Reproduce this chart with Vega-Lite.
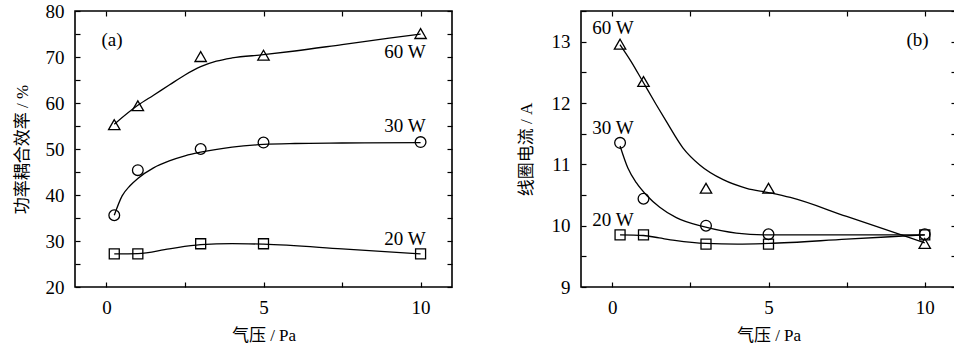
{
  "$schema": "https://vega.github.io/schema/vega-lite/v6.json",
  "padding": {"left": 12, "top": 1, "right": 0, "bottom": 0},
  "background": "white",
  "config": {
    "view": {"stroke": "black", "strokeWidth": 1.6},
    "axis": {
      "grid": false, "domain": false,
      "tickColor": "black", "tickWidth": 1.2, "tickSize": -5,
      "labelColor": "black", "labelFont": "Liberation Serif", "labelFontSize": 19, "labelPadding": 16,
      "titleColor": "black", "titleFont": "Liberation Serif, Noto Sans CJK SC", "titleFontSize": 17, "titleFontWeight": "normal"
    },
    "text": {"font": "Liberation Serif", "fontSize": 19, "color": "black", "baseline": "middle"}
  },
  "datasets": {
    "pointsA": [
      {"s": "60W", "x": 0.25, "y": 55.3}, {"s": "60W", "x": 1, "y": 59.4}, {"s": "60W", "x": 3, "y": 70.1}, {"s": "60W", "x": 5, "y": 70.4}, {"s": "60W", "x": 10, "y": 75.1},
      {"s": "30W", "x": 0.25, "y": 35.6}, {"s": "30W", "x": 1, "y": 45.4}, {"s": "30W", "x": 3, "y": 50.0}, {"s": "30W", "x": 5, "y": 51.4}, {"s": "30W", "x": 10, "y": 51.5},
      {"s": "20W", "x": 0.25, "y": 27.2}, {"s": "20W", "x": 1, "y": 27.2}, {"s": "20W", "x": 3, "y": 29.4}, {"s": "20W", "x": 5, "y": 29.4}, {"s": "20W", "x": 10, "y": 27.2}
    ],
    "curvesA": [
      {"s": "60W", "x": 0.25, "y": 55.4}, {"s": "60W", "x": 1, "y": 59.5}, {"s": "60W", "x": 1.5, "y": 61.7}, {"s": "60W", "x": 2, "y": 63.9}, {"s": "60W", "x": 2.5, "y": 66.1}, {"s": "60W", "x": 3, "y": 67.9}, {"s": "60W", "x": 3.5, "y": 69.1}, {"s": "60W", "x": 4, "y": 69.8}, {"s": "60W", "x": 5, "y": 70.5}, {"s": "60W", "x": 6, "y": 71.3}, {"s": "60W", "x": 7.5, "y": 72.7}, {"s": "60W", "x": 9, "y": 74.1}, {"s": "60W", "x": 10, "y": 75.0},
      {"s": "30W", "x": 0.25, "y": 35.6}, {"s": "30W", "x": 0.5, "y": 39.8}, {"s": "30W", "x": 0.75, "y": 42.0}, {"s": "30W", "x": 1, "y": 43.6}, {"s": "30W", "x": 1.5, "y": 45.9}, {"s": "30W", "x": 2, "y": 47.4}, {"s": "30W", "x": 2.5, "y": 48.5}, {"s": "30W", "x": 3, "y": 49.3}, {"s": "30W", "x": 4, "y": 50.4}, {"s": "30W", "x": 5, "y": 51.0}, {"s": "30W", "x": 6, "y": 51.2}, {"s": "30W", "x": 7.5, "y": 51.3}, {"s": "30W", "x": 10, "y": 51.4},
      {"s": "20W", "x": 0.25, "y": 27.2}, {"s": "20W", "x": 1, "y": 27.25}, {"s": "20W", "x": 2, "y": 28.3}, {"s": "20W", "x": 3, "y": 29.2}, {"s": "20W", "x": 4, "y": 29.45}, {"s": "20W", "x": 5, "y": 29.3}, {"s": "20W", "x": 7.5, "y": 28.3}, {"s": "20W", "x": 10, "y": 27.2}
    ],
    "tagA": [{"t": "(a)", "x": 0.18, "y": 73.7}],
    "seriesLabelsA": [
      {"t": "60 W", "x": 10.16, "y": 71.0},
      {"t": "30 W", "x": 10.16, "y": 54.9},
      {"t": "20 W", "x": 10.16, "y": 30.5}
    ],
    "pointsB": [
      {"s": "60W", "x": 0.25, "y": 12.96}, {"s": "60W", "x": 1, "y": 12.35}, {"s": "60W", "x": 3, "y": 10.61}, {"s": "60W", "x": 5, "y": 10.61}, {"s": "60W", "x": 10, "y": 9.71},
      {"s": "30W", "x": 0.25, "y": 11.35}, {"s": "30W", "x": 1, "y": 10.44}, {"s": "30W", "x": 3, "y": 10.0}, {"s": "30W", "x": 5, "y": 9.86}, {"s": "30W", "x": 10, "y": 9.86},
      {"s": "20W", "x": 0.25, "y": 9.85}, {"s": "20W", "x": 1, "y": 9.85}, {"s": "20W", "x": 3, "y": 9.7}, {"s": "20W", "x": 5, "y": 9.7}, {"s": "20W", "x": 10, "y": 9.85}
    ],
    "curvesB": [
      {"s": "60W", "x": 0.25, "y": 12.95}, {"s": "60W", "x": 0.6, "y": 12.68}, {"s": "60W", "x": 1, "y": 12.33}, {"s": "60W", "x": 1.4, "y": 11.98}, {"s": "60W", "x": 1.73, "y": 11.7}, {"s": "60W", "x": 2.26, "y": 11.27}, {"s": "60W", "x": 2.8, "y": 10.99}, {"s": "60W", "x": 3.55, "y": 10.75}, {"s": "60W", "x": 4.3, "y": 10.61}, {"s": "60W", "x": 5, "y": 10.54}, {"s": "60W", "x": 5.7, "y": 10.46}, {"s": "60W", "x": 7.5, "y": 10.15}, {"s": "60W", "x": 10, "y": 9.72},
      {"s": "30W", "x": 0.25, "y": 11.3}, {"s": "30W", "x": 0.5, "y": 10.94}, {"s": "30W", "x": 0.77, "y": 10.7}, {"s": "30W", "x": 1.09, "y": 10.5}, {"s": "30W", "x": 1.52, "y": 10.3}, {"s": "30W", "x": 2.05, "y": 10.13}, {"s": "30W", "x": 2.96, "y": 9.98}, {"s": "30W", "x": 3.97, "y": 9.88}, {"s": "30W", "x": 5, "y": 9.85}, {"s": "30W", "x": 7.5, "y": 9.85}, {"s": "30W", "x": 10, "y": 9.85},
      {"s": "20W", "x": 0.25, "y": 9.85}, {"s": "20W", "x": 1, "y": 9.84}, {"s": "20W", "x": 1.5, "y": 9.8}, {"s": "20W", "x": 2, "y": 9.76}, {"s": "20W", "x": 3, "y": 9.71}, {"s": "20W", "x": 4, "y": 9.7}, {"s": "20W", "x": 5, "y": 9.71}, {"s": "20W", "x": 7.5, "y": 9.78}, {"s": "20W", "x": 10, "y": 9.85}
    ],
    "tagB": [{"t": "(b)", "x": 9.77, "y": 13.03}],
    "seriesLabelsB": [
      {"t": "60 W", "x": -0.64, "y": 13.23},
      {"t": "30 W", "x": -0.64, "y": 11.6},
      {"t": "20 W", "x": -0.64, "y": 10.1}
    ]
  },
  "spacing": 129,
  "bounds": "flush",
  "hconcat": [
    {
      "width": 377, "height": 276,
      "resolve": {"axis": {"x": "independent", "y": "independent"}},
      "layer": [
        {
          "data": {"name": "curvesA"},
          "mark": {"type": "line", "interpolate": "monotone", "color": "black", "strokeWidth": 1.3},
          "encoding": {
            "x": {"field": "x", "type": "quantitative", "scale": {"domain": [-1, 11], "nice": false, "zero": false},
                  "axis": {"orient": "bottom", "values": [0, 2.5, 5, 7.5, 10], "labelExpr": "datum.value % 5 === 0 ? datum.label : ''", "title": "气压 / Pa", "titlePadding": 10}},
            "y": {"field": "y", "type": "quantitative", "scale": {"domain": [20, 80], "nice": false, "zero": false},
                  "axis": {"orient": "left", "values": [20, 25, 30, 35, 40, 45, 50, 55, 60, 65, 70, 75, 80], "labelExpr": "datum.value % 10 === 0 ? datum.label : ''", "title": "功率耦合效率 / %", "titlePadding": 14}},
            "detail": {"field": "s"}
          }
        },
        {
          "data": {"name": "pointsA"},
          "mark": {"type": "point", "filled": false, "color": "black", "strokeWidth": 1.3, "opacity": 1},
          "encoding": {
            "x": {"field": "x", "type": "quantitative", "axis": {"orient": "top", "values": [0, 2.5, 5, 7.5, 10], "labels": false, "title": null}},
            "y": {"field": "y", "type": "quantitative", "axis": {"orient": "right", "values": [20, 25, 30, 35, 40, 45, 50, 55, 60, 65, 70, 75, 80], "labels": false, "title": null}},
            "shape": {"field": "s", "type": "nominal", "scale": {"domain": ["60W", "30W", "20W"], "range": ["triangle-up", "circle", "square"]}, "legend": null},
            "size": {"field": "s", "type": "nominal", "scale": {"domain": ["60W", "30W", "20W"], "range": [130, 100, 80]}, "legend": null}
          }
        },
        {
          "data": {"name": "tagA"},
          "mark": {"type": "text", "align": "center"},
          "encoding": {
            "x": {"field": "x", "type": "quantitative", "axis": null},
            "y": {"field": "y", "type": "quantitative", "axis": null},
            "text": {"field": "t"}
          }
        },
        {
          "data": {"name": "seriesLabelsA"},
          "mark": {"type": "text", "align": "right"},
          "encoding": {
            "x": {"field": "x", "type": "quantitative", "axis": null},
            "y": {"field": "y", "type": "quantitative", "axis": null},
            "text": {"field": "t"}
          }
        }
      ]
    },
    {
      "width": 375, "height": 276,
      "resolve": {"axis": {"x": "independent", "y": "independent"}},
      "layer": [
        {
          "data": {"name": "curvesB"},
          "mark": {"type": "line", "interpolate": "monotone", "color": "black", "strokeWidth": 1.3},
          "encoding": {
            "x": {"field": "x", "type": "quantitative", "scale": {"domain": [-1, 11], "nice": false, "zero": false},
                  "axis": {"orient": "bottom", "values": [0, 2.5, 5, 7.5, 10], "labelExpr": "datum.value % 5 === 0 ? datum.label : ''", "title": "气压 / Pa", "titlePadding": 10}},
            "y": {"field": "y", "type": "quantitative", "scale": {"domain": [9, 13.5], "nice": false, "zero": false},
                  "axis": {"orient": "left", "values": [9, 9.5, 10, 10.5, 11, 11.5, 12, 12.5, 13, 13.5], "labelExpr": "datum.value % 1 === 0 ? format(datum.value, 'd') : ''", "title": "线圈电流 / A", "titlePadding": 16}},
            "detail": {"field": "s"}
          }
        },
        {
          "data": {"name": "pointsB"},
          "mark": {"type": "point", "filled": false, "color": "black", "strokeWidth": 1.3, "opacity": 1},
          "encoding": {
            "x": {"field": "x", "type": "quantitative", "axis": {"orient": "top", "values": [0, 2.5, 5, 7.5, 10], "labels": false, "title": null}},
            "y": {"field": "y", "type": "quantitative", "axis": {"orient": "right", "values": [9, 9.5, 10, 10.5, 11, 11.5, 12, 12.5, 13, 13.5], "labels": false, "title": null}},
            "shape": {"field": "s", "type": "nominal", "scale": {"domain": ["60W", "30W", "20W"], "range": ["triangle-up", "circle", "square"]}, "legend": null},
            "size": {"field": "s", "type": "nominal", "scale": {"domain": ["60W", "30W", "20W"], "range": [130, 100, 80]}, "legend": null}
          }
        },
        {
          "data": {"name": "tagB"},
          "mark": {"type": "text", "align": "center"},
          "encoding": {
            "x": {"field": "x", "type": "quantitative", "axis": null},
            "y": {"field": "y", "type": "quantitative", "axis": null},
            "text": {"field": "t"}
          }
        },
        {
          "data": {"name": "seriesLabelsB"},
          "mark": {"type": "text", "align": "left"},
          "encoding": {
            "x": {"field": "x", "type": "quantitative", "axis": null},
            "y": {"field": "y", "type": "quantitative", "axis": null},
            "text": {"field": "t"}
          }
        }
      ]
    }
  ]
}
